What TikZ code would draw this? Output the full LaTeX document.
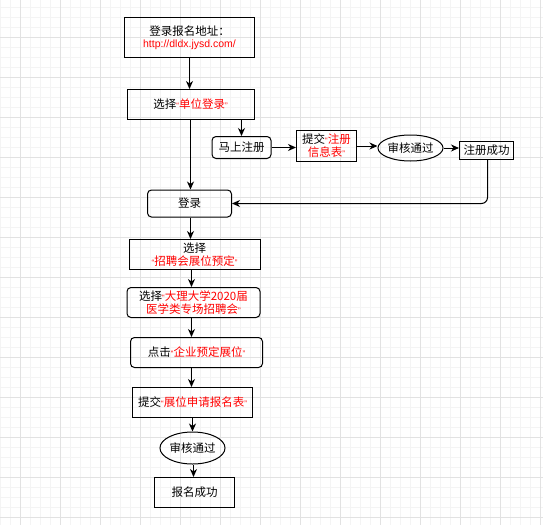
\documentclass[tikz,border=0pt]{standalone}
\usepackage{fontspec}
\setmainfont{Noto Sans CJK SC}
\newfontfamily\urlfont{Liberation Sans}
\usetikzlibrary{arrows.meta,shapes.geometric,calc}
\definecolor{gridminor}{HTML}{F4F4F4}
\definecolor{gridmajor}{HTML}{E2E2E2}
\definecolor{txtred}{HTML}{FF0000}
\newcommand{\R}[1]{\textcolor{txtred}{#1}}
\newcommand{\oq}{{\urlfont\fontsize{8}{9}\selectfont “}}
\newcommand{\cq}{{\urlfont\fontsize{8}{9}\selectfont ”}}
\tikzset{
  base/.style={draw=black, line width=1pt, inner sep=0pt, align=center,
    font=\fontsize{11.5}{12.5}\selectfont},
  box/.style={base, rectangle},
  rbox/.style={base, rectangle, rounded corners=4pt},
  ell/.style={base, ellipse},
  arr/.style={line width=1pt, -{Stealth[length=8pt,width=7pt,inset=2.5pt]}},
}
\begin{document}
\begin{tikzpicture}[x=1pt,y=-1pt]
\useasboundingbox (0,0) rectangle (543,525);
\fill[white] (0,0) rectangle (543,525);
% grid
\foreach \x in {0,10,...,540} \draw[gridminor, line width=0.6pt] (\x,0) -- (\x,525);
\foreach \y in {7,17,...,525} \draw[gridminor, line width=0.6pt] (0,\y) -- (543,\y);
\foreach \x in {20,60,...,540} \draw[gridmajor, line width=0.7pt] (\x,0) -- (\x,525);
\foreach \y in {37,77,...,525} \draw[gridmajor, line width=0.7pt] (0,\y) -- (543,\y);

% nodes
\node[box, minimum width=130pt, minimum height=40pt] (b1) at (189.5,37.5)
  {登录报名地址：\\[-1pt]{\urlfont\fontsize{10.5}{12}\selectfont\R{http://dldx.jysd.com/}}};
\node[box, minimum width=127pt, minimum height=30pt] (b2) at (190.5,104.5) {选择\R{\oq 单位登录\cq}};
\node[rbox, minimum width=59pt, minimum height=22pt] (mszc) at (241.5,147.5) {马上注册};
\node[box, minimum width=60pt, minimum height=31pt] (tj) at (326.5,145.5) {提交\R{\oq 注册}\\\R{信息表\cq}};
\node[ell, minimum width=61pt, minimum height=26pt] (sh1) at (410.5,148) {审核通过};
\node[box, minimum width=54pt, minimum height=18pt] (zccg) at (486.5,150.5) {注册成功};
\node[rbox, minimum width=84pt, minimum height=27pt] (login) at (189.5,203.5) {登录};
\node[box, minimum width=131pt, minimum height=30pt] (b8) at (194.5,254.5) {选择\\\R{\oq 招聘会展位预定\cq}};
\node[rbox, minimum width=133pt, minimum height=30pt] (b9) at (193.5,302.5) {选择\R{\oq 大理大学2020届}\\\R{医学类专场招聘会\cq}};
\node[rbox, minimum width=132pt, minimum height=30pt] (b10) at (196.5,352.5) {点击\R{\oq 企业预定展位\cq}};
\node[box, minimum width=120pt, minimum height=30pt] (b11) at (192.5,402.5) {提交\R{\oq 展位申请报名表\cq}};
\node[ell, minimum width=57pt, minimum height=32pt] (sh2) at (192.5,448) {审核通过};
\node[box, minimum width=80pt, minimum height=30pt] (b13) at (194.5,492.5) {报名成功};

% arrow guide coordinates
\coordinate (x1) at (189.5,0);
\coordinate (x2) at (190.5,0);
\coordinate (x3) at (191.5,0);
\coordinate (x4) at (192.5,0);
\coordinate (x5) at (193.5,0);

% connectors
\draw[arr] (b1.south -| x1) -- (b2.north -| x1);
\draw[arr] (b2.south -| x2) -- (login.north -| x2);
\draw[arr] (mszc.north |- b2.south) -- (mszc.north);
\draw[arr] (mszc.east) -- (mszc.east -| tj.west);
\draw[arr] ([yshift=-0.5pt]tj.east) -- ([yshift=-0.5pt]tj.east -| sh1.west);
\draw[arr] (sh1.east) -- (sh1.east -| zccg.west);
\draw[arr, rounded corners=6pt] ([xshift=1pt]zccg.south) |- (login.east);
\draw[arr] (login.south -| x2) -- (b8.north -| x2);
\draw[arr] (b8.south -| x3) -- (b9.north -| x3);
\draw[arr] (b9.south -| x3) -- (b10.north -| x3);
\draw[arr] (b10.south -| x3) -- (b11.north -| x3);
\draw[arr] (b11.south -| x4) -- (sh2.north -| x4);
\draw[arr] (sh2.south -| x5) -- (b13.north -| x5);
\end{tikzpicture}
\end{document}
